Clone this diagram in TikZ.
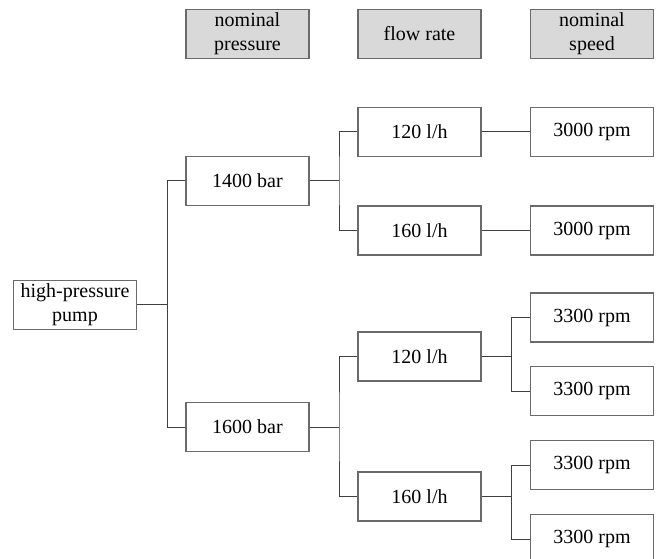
\documentclass[tikz,border=0pt]{standalone}
\usepackage{fontspec}
\setmainfont{Liberation Serif}
\definecolor{linegray}{HTML}{6A6A6A}
\definecolor{conngray}{HTML}{404040}
\definecolor{hdrgray}{HTML}{D9D9D9}
\begin{document}
\begin{tikzpicture}[x=1pt,y=-1pt,
  box/.style={draw=linegray, line width=1.4pt, fill=white, minimum width=123pt, minimum height=49pt, inner sep=0pt, align=center, font=\fontsize{20}{24}\selectfont},
  hdr/.style={box, fill=hdrgray},
  conn/.style={draw=conngray, line width=1pt}]
\useasboundingbox (0,0) rectangle (657,559);
\clip (0,0) rectangle (657,559);
% headers
\node[hdr] (hp) at (247.5,34) {nominal\\pressure};
\node[hdr] (hf) at (419.5,34) {flow rate};
\node[hdr] (hs) at (592,34) {nominal\\speed};
% tree
\node[box] (root) at (75,305) {high-pressure\\pump};
\node[box] (p14) at (247.5,181) {1400 bar};
\node[box] (p16) at (247.5,427) {1600 bar};
\node[box] (f1) at (419.5,132) {120 l/h};
\node[box] (f2) at (419.5,230.5) {160 l/h};
\node[box] (f3) at (419.5,356.5) {120 l/h};
\node[box] (f4) at (419.5,496.5) {160 l/h};
\node[box] (s1) at (592,132) {3000 rpm};
\node[box] (s2) at (592,230.5) {3000 rpm};
\node[box] (s3) at (592,317.5) {3300 rpm};
\node[box] (s4) at (592,391) {3300 rpm};
\node[box] (s5) at (592,465) {3300 rpm};
\node[box] (s6) at (592,539) {3300 rpm};
% junctions
\coordinate (j0) at (167.3,305);
\coordinate (j1) at (339,181);
\coordinate (j2) at (339,427);
\coordinate (j3) at (511.7,356.5);
\coordinate (j4) at (511.7,496.5);
% connectors
\draw[conn] (root.east) -- (j0);
\draw[conn] (p14.west) -| (j0) |- (p16.west);
\draw[conn] (p14.east) -- (j1);
\draw[conn] (f1.west) -| (j1) |- (f2.west);
\draw[conn] (f1.east) -- (s1.west);
\draw[conn] (f2.east) -- (s2.west);
\draw[conn] (p16.east) -- (j2);
\draw[conn] (f3.west) -| (j2) |- (f4.west);
\draw[conn] (f3.east) -- (j3);
\draw[conn] (s3.west) -| (j3) |- (s4.west);
\draw[conn] (f4.east) -- (j4);
\draw[conn] (s5.west) -| (j4) |- (s6.west);
\end{tikzpicture}
\end{document}
